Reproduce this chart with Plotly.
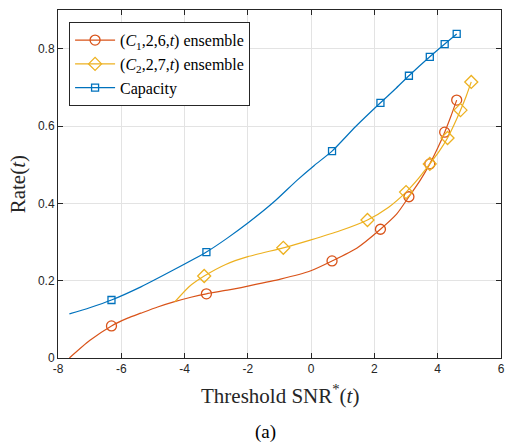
import plotly.graph_objects as go

# ---- data ----
# (C1,2,6,t) ensemble: curve points and marker points
red_x = [-7.64, -7.0, -6.31, -5.8, -5.38, -4.85, -4.34, -3.8, -3.31, -2.6, -2.0, -0.97, -0.03, 0.66, 1.44, 2.19, 2.7, 3.09, 3.45, 3.75, 4.0, 4.22, 4.42, 4.6]
red_y = [0.0, 0.045, 0.083, 0.103, 0.116, 0.132, 0.145, 0.157, 0.166, 0.176, 0.186, 0.204, 0.225, 0.251, 0.284, 0.333, 0.372, 0.417, 0.460, 0.502, 0.543, 0.584, 0.626, 0.667]
red_mx = [-6.31, -3.31, 0.66, 2.19, 3.09, 3.75, 4.22, 4.6]
red_my = [0.083, 0.166, 0.251, 0.333, 0.417, 0.502, 0.584, 0.667]

# (C2,2,7,t) ensemble
yel_x = [-4.31, -3.85, -3.38, -2.7, -2.0, -0.88, -0.03, 0.91, 1.78, 2.45, 3.0, 3.4, 3.75, 4.05, 4.31, 4.52, 4.72, 4.9, 5.06]
yel_y = [0.145, 0.185, 0.212, 0.242, 0.262, 0.285, 0.305, 0.329, 0.357, 0.390, 0.429, 0.465, 0.502, 0.535, 0.569, 0.604, 0.641, 0.677, 0.714]
yel_mx = [-3.38, -0.88, 1.78, 3.0, 3.75, 4.31, 4.72, 5.06]
yel_my = [0.212, 0.285, 0.357, 0.429, 0.502, 0.569, 0.641, 0.714]

# Capacity
cap_x = [-7.64, -7.0, -6.31, -5.38, -4.34, -3.31, -2.65, -2.0, -1.2, -0.44, 0.1, 0.66, 1.4, 2.19, 2.65, 3.09, 3.75, 4.22, 4.6]
cap_y = [0.114, 0.130, 0.150, 0.184, 0.228, 0.274, 0.310, 0.349, 0.402, 0.460, 0.498, 0.535, 0.598, 0.660, 0.695, 0.730, 0.779, 0.812, 0.838]
cap_mx = [-6.31, -3.31, 0.66, 2.19, 3.09, 3.75, 4.22, 4.6]
cap_my = [0.150, 0.274, 0.535, 0.660, 0.730, 0.779, 0.812, 0.838]

x_ticks = [-8, -6, -4, -2, 0, 2, 4, 6]
x_labels = ["-8", "-6", "-4", "-2", "0", "2", "4", "6"]
y_ticks = [0, 0.2, 0.4, 0.6, 0.8]
y_labels = ["0", "0.2", "0.4", "0.6", "0.8"]

names = ["(<i>C</i><sub>1</sub>,2,6,<i>t</i>) ensemble",
         "(<i>C</i><sub>2</sub>,2,7,<i>t</i>) ensemble",
         "Capacity"]
colors = ["#D95319", "#EDB120", "#0072BD"]
symbols = ["circle-open", "diamond-open", "square-open"]
msizes = [10, 10, 7]

fig = go.Figure()
series = [(red_x, red_y, red_mx, red_my), (yel_x, yel_y, yel_mx, yel_my), (cap_x, cap_y, cap_mx, cap_my)]
for (lx, ly, mx, my), nm, c, s, ms in zip(series, names, colors, symbols, msizes):
    fig.add_trace(go.Scatter(x=lx, y=ly, mode="lines", line=dict(color=c, width=1.2, shape="spline", smoothing=0.6),
                             showlegend=False, hoverinfo="skip"))
    fig.add_trace(go.Scatter(x=mx, y=my, mode="markers", showlegend=False,
                             marker=dict(symbol=s, size=ms, color=c, line=dict(width=1.3, color=c))))
    fig.add_trace(go.Scatter(x=[None], y=[None], mode="lines+markers", name=nm,
                             line=dict(color=c, width=1.2),
                             marker=dict(symbol=s, size=ms, color=c, line=dict(width=1.3, color=c))))

axis_common = dict(showline=True, linecolor="#262626", linewidth=1, mirror="ticks", ticks="inside",
                   ticklen=5, tickcolor="#262626", showgrid=True, gridcolor="#E3E3E3", gridwidth=1,
                   zeroline=False, tickfont=dict(family="Liberation Sans, Arial", size=12, color="#262626"))

fig.update_xaxes(range=[-8, 6], tickvals=x_ticks, ticktext=x_labels, **axis_common)
fig.update_yaxes(range=[0, 0.9], tickvals=y_ticks, ticktext=y_labels, **axis_common)

fig.update_layout(
    width=509, height=446,
    margin=dict(l=58, r=4, t=10, b=88),
    plot_bgcolor="white", paper_bgcolor="white",
    legend=dict(x=0.025, y=0.965, xanchor="left", yanchor="top",
                bgcolor="white", bordercolor="#262626", borderwidth=1,
                font=dict(family="Liberation Serif, Times New Roman", size=16, color="#000000"),
                tracegroupgap=0, itemwidth=40),
    annotations=[
        dict(text="Threshold SNR<sup>*</sup>(<i>t</i>)", xref="paper", yref="paper", x=0.5, y=-0.106,
             xanchor="center", yanchor="middle", showarrow=False,
             font=dict(family="Liberation Serif, Times New Roman", size=21, color="#262626")),
        dict(text="Rate(<i>t</i>)", xref="paper", yref="paper", x=-0.0895, y=0.5, textangle=-90,
             xanchor="center", yanchor="middle", showarrow=False,
             font=dict(family="Liberation Serif, Times New Roman", size=21, color="#262626")),
        dict(text="(a)", xref="paper", yref="paper", x=0.469, y=-0.213,
             xanchor="center", yanchor="middle", showarrow=False,
             font=dict(family="Liberation Serif, Times New Roman", size=19, color="#000000")),
    ],
)

fig.write_html("out.html", config={"displayModeBar": False},
               post_script="document.body.style.margin='0';document.body.style.overflow='hidden';")
